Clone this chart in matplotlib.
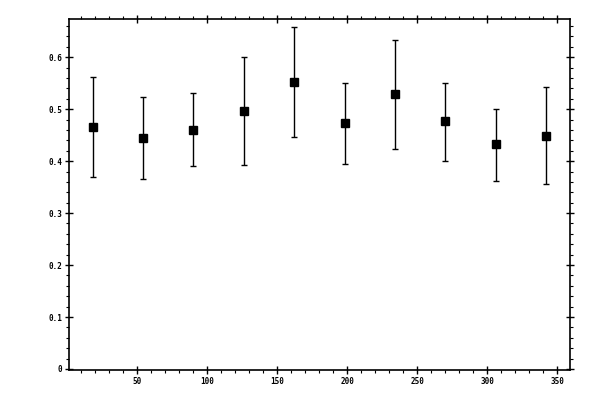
import matplotlib
matplotlib.use("Agg")
import matplotlib.pyplot as plt
from matplotlib.ticker import MultipleLocator, FormatStrFormatter

angles = [18, 54, 90, 126, 162, 198, 234, 270, 306, 342]
values = [0.465, 0.444, 0.460, 0.496, 0.552, 0.473, 0.529, 0.477, 0.433, 0.448]
upper = [0.5615, 0.523, 0.531, 0.600, 0.658, 0.550, 0.633, 0.551, 0.501, 0.542]
lower = [0.370, 0.365, 0.391, 0.392, 0.446, 0.394, 0.423, 0.400, 0.3615, 0.356]

err_lo = [v - l for v, l in zip(values, lower)]
err_hi = [u - v for u, v in zip(upper, values)]

fig = plt.figure(figsize=(6, 4), dpi=100)
ax = fig.add_axes([0.1155, 0.075, 0.835, 0.8768])

ax.errorbar(angles, values, yerr=[err_lo, err_hi], fmt='s', color='black',
            markersize=5.5, elinewidth=1.0, capsize=2.2, capthick=1.0,
            ecolor='black')

ax.set_xlim(1.4, 359.3)
ax.set_ylim(-0.002, 0.673)

ax.xaxis.set_major_locator(MultipleLocator(50))
ax.xaxis.set_minor_locator(MultipleLocator(10))
ax.yaxis.set_major_locator(MultipleLocator(0.1))
ax.yaxis.set_minor_locator(MultipleLocator(0.02))

def yfmt(v, pos):
    if abs(v) < 1e-9:
        return "0"
    return "%.1f" % v
ax.yaxis.set_major_formatter(plt.FuncFormatter(yfmt))
ax.xaxis.set_major_formatter(FormatStrFormatter('%d'))

for s in ax.spines.values():
    s.set_linewidth(1.2)

ax.tick_params(which='major', direction='inout', length=6, width=1.0,
               top=True, right=True, labeltop=False, labelright=False,
               labelsize=5.5, pad=2)
ax.tick_params(which='minor', direction='out', length=2.4, width=0.8,
               top=True, right=True)

for lab in ax.get_xticklabels() + ax.get_yticklabels():
    lab.set_family('DejaVu Sans Mono')
    lab.set_fontweight('bold')

fig.savefig('out.png', dpi=100)
